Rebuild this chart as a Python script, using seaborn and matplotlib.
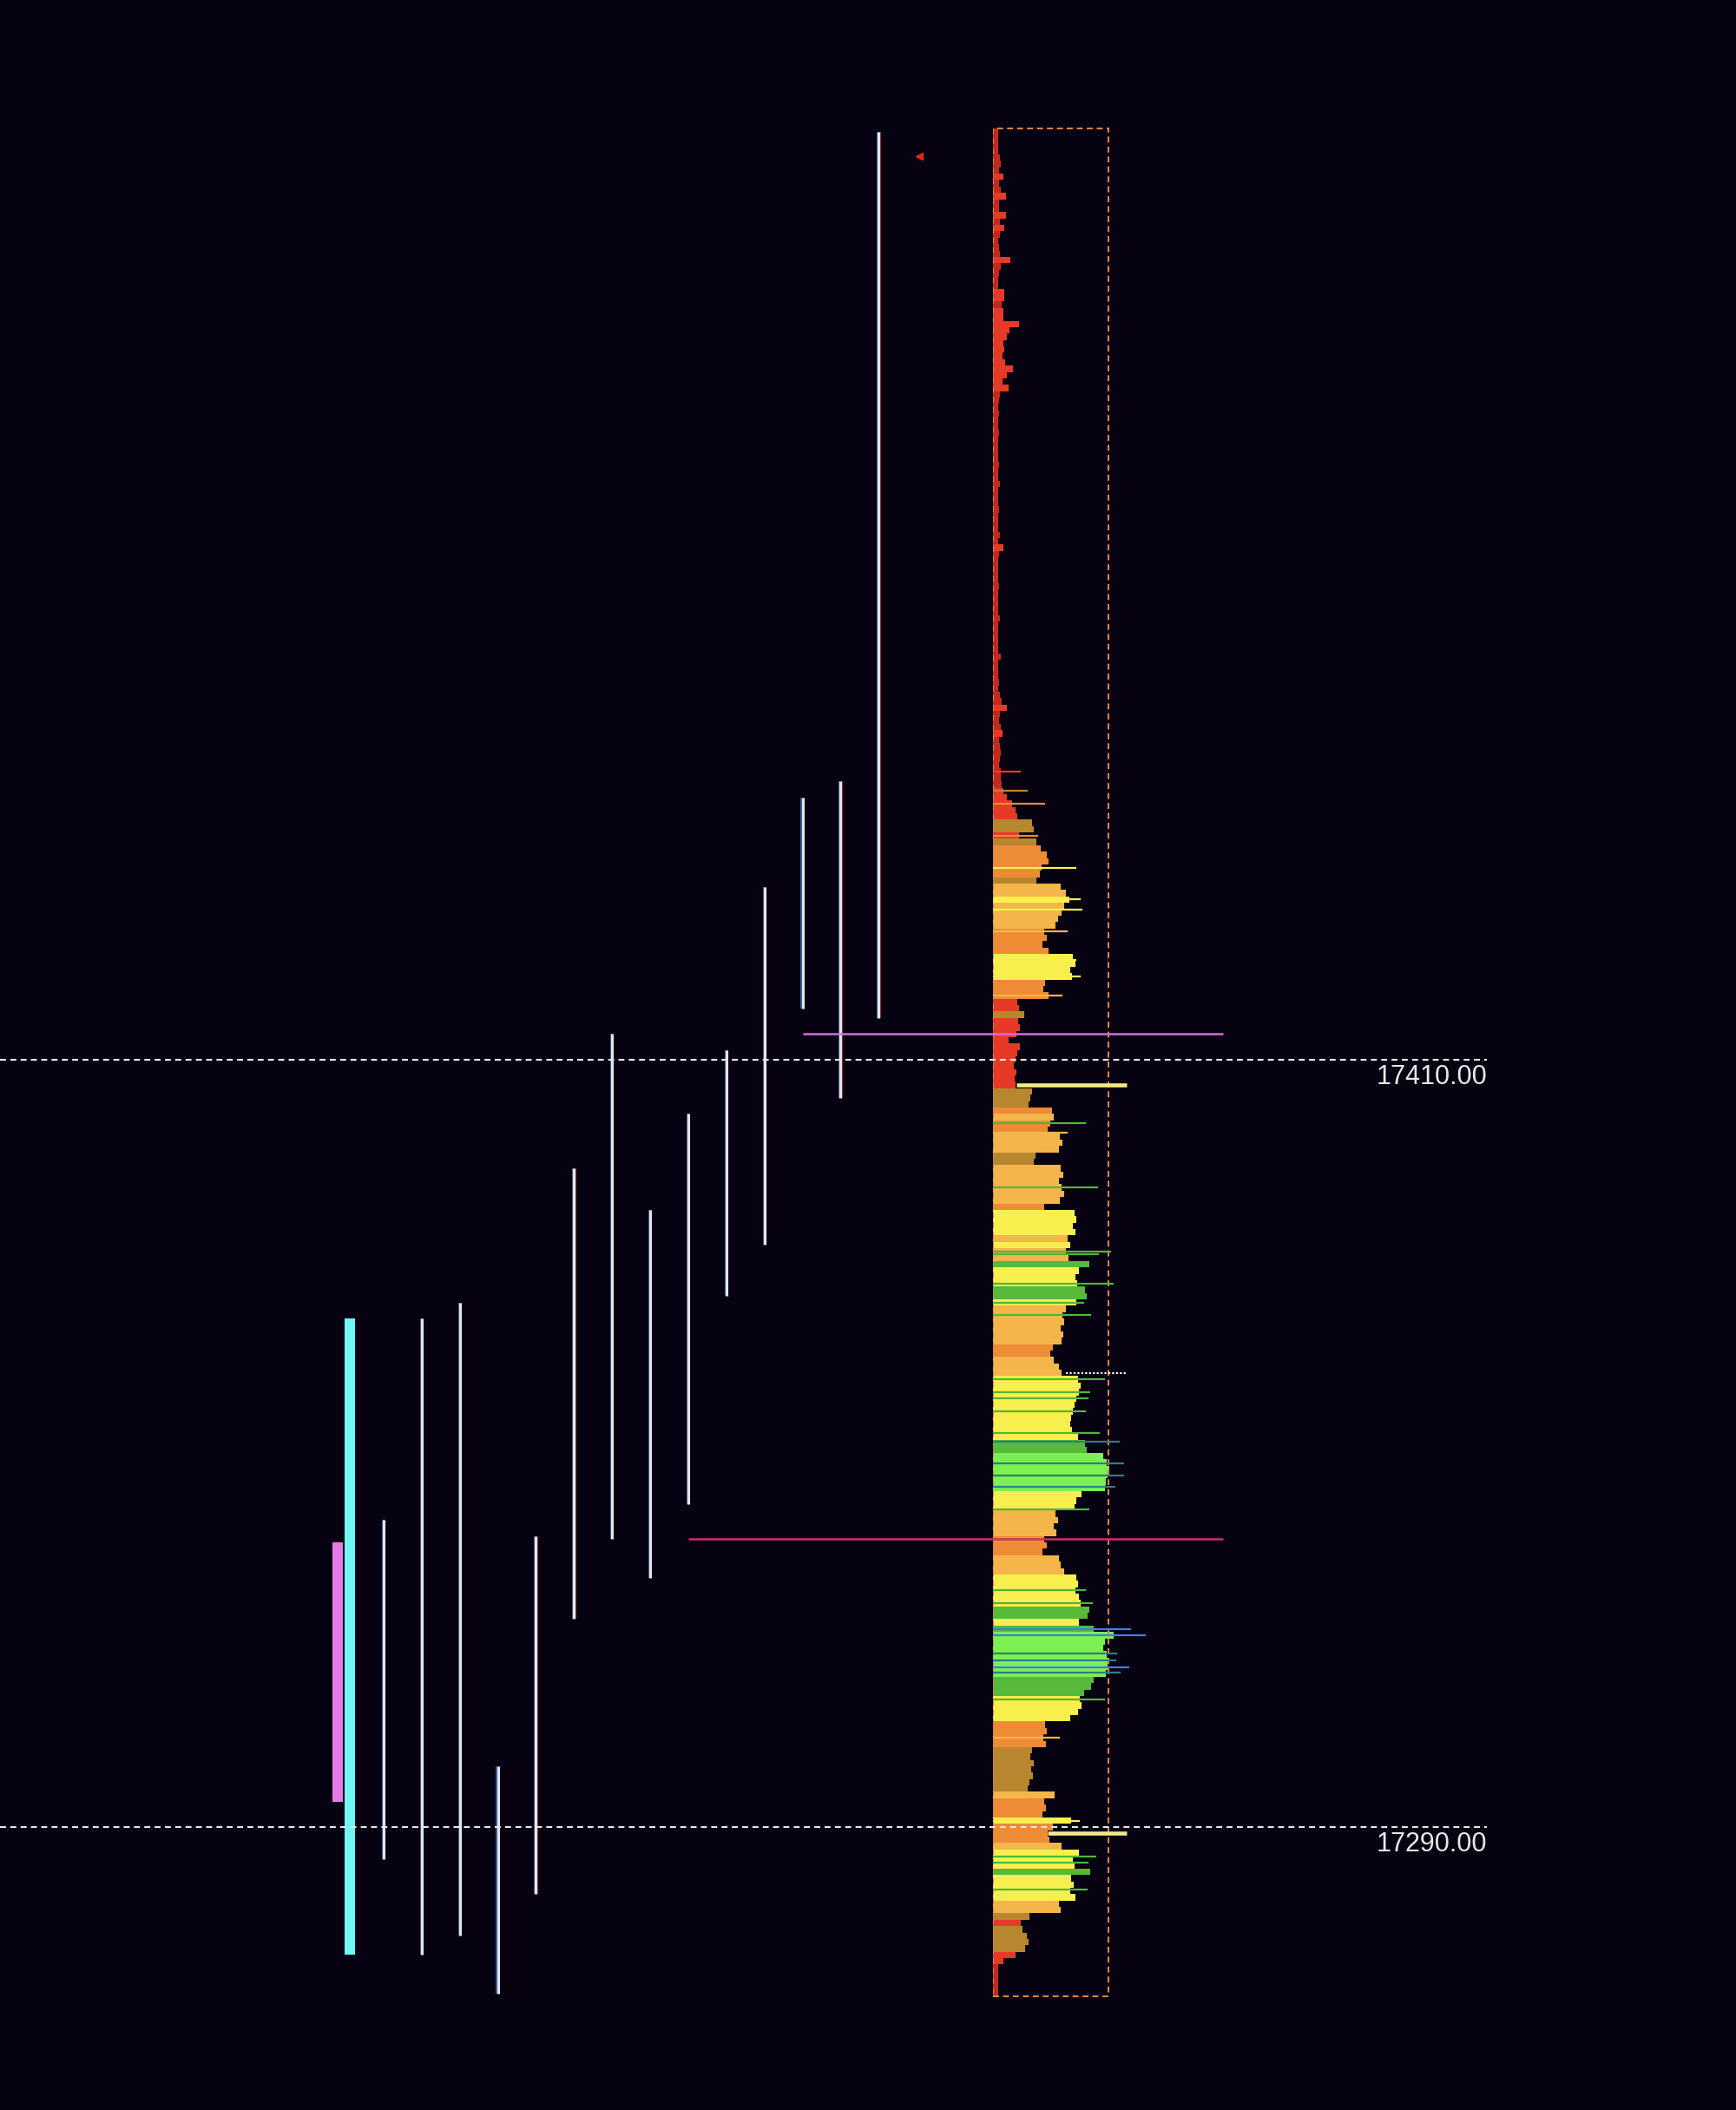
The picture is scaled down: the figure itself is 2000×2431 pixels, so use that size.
import numpy as np
import pandas as pd
import matplotlib
matplotlib.use("Agg")
import matplotlib.pyplot as plt
import seaborn as sns
from matplotlib.patches import Rectangle

# --- volume profile, one row per point, from 17555 down to 17264 ---
prices = np.arange(17555, 17263, -1)
volume = [
    6, 6, 6, 6, 8, 9, 7, 12, 7, 9,
    15, 7, 7, 15, 8, 13, 8, 6, 7, 8,
    20, 9, 7, 6, 6, 13, 13, 10, 12, 12,
    30, 19, 16, 12, 13, 11, 14, 23, 16, 11,
    18, 8, 7, 6, 7, 6, 6, 7, 6, 6,
    6, 6, 7, 6, 6, 8, 6, 6, 6, 7,
    6, 6, 6, 8, 6, 12, 7, 6, 6, 6,
    6, 7, 6, 6, 6, 6, 8, 6, 6, 6,
    6, 6, 9, 6, 6, 6, 7, 6, 8, 10,
    16, 8, 7, 9, 11, 7, 8, 9, 8, 7,
    9, 9, 10, 12, 16, 22, 26, 28, 45, 47,
    30, 50, 55, 62, 64, 56, 54, 50, 78, 84,
    88, 82, 79, 75, 72, 59, 62, 57, 64, 92,
    95, 89, 91, 60, 58, 64, 28, 30, 36, 29,
    31, 27, 18, 31, 28, 26, 24, 27, 25, 26,
    45, 43, 41, 68, 70, 66, 63, 77, 80, 76,
    49, 47, 78, 81, 76, 79, 82, 77, 59, 94,
    96, 92, 95, 86, 89, 84, 87, 111, 99, 95,
    97, 106, 108, 96, 84, 80, 82, 78, 81, 79,
    69, 66, 70, 76, 79, 98, 101, 99, 96, 94,
    92, 90, 89, 91, 98, 106, 108, 127, 131, 134,
    132, 130, 129, 102, 96, 94, 72, 75, 70, 73,
    59, 62, 57, 76, 78, 82, 96, 98, 95, 99,
    101, 111, 109, 99, 116, 139, 129, 127, 131, 134,
    132, 130, 116, 113, 105, 100, 102, 98, 89, 60,
    62, 58, 61, 45, 43, 47, 44, 46, 42, 40,
    71, 59, 61, 57, 90, 69, 63, 65, 79, 99,
    92, 94, 112, 90, 93, 89, 95, 76, 78, 42,
    32, 34, 39, 41, 37, 26, 12, 6, 6, 6,
    6, 6,
]

# thin spike lines sticking out of the profile
spike_price = [17455, 17452, 17450, 17445, 17440, 17435, 17433.5, 17430, 17425.5, 17423,
               17420, 17400, 17398.5, 17390, 17380, 17379.5, 17375, 17372, 17370, 17360,
               17358, 17357, 17355, 17351.6, 17350.3, 17346.8, 17345, 17343.2, 17339.6, 17327,
               17325, 17320.9, 17320, 17317.1, 17316, 17315, 17314.1, 17310, 17304, 17291,
               17285.4, 17284.5, 17280.2]
spike_vol = [32, 40, 60, 52, 96, 101, 103, 86, 96, 101,
             80, 107, 86, 121, 136, 122, 139, 105, 113, 129,
             112, 110, 107, 123, 146, 151, 151, 141, 111, 107,
             115, 159, 176, 143, 142, 157, 147, 129, 77, 100,
             119, 110, 109]

# --- TPO period ranges (high / low) ---
tpo_high = [17338, 17369.5, 17372, 17299.5, 17335.5, 17393, 17414, 17386.5,
            17401.5, 17411.5, 17437, 17451, 17453.5, 17555]
tpo_low = [17285, 17270, 17273, 17264, 17279.5, 17322.5, 17335, 17329,
           17340.5, 17373, 17381, 17418, 17404, 17416.5]
ib_high, ib_low = 17369.5, 17270
pink_high, pink_low = 17334.5, 17294

# reference levels
levels = [17410, 17290]
level_labels = ["17410.00", "17290.00"]
poc_prices = [17406, 17289]
poc_start = [27, 63]
vwap_price = 17361
pink_line = 17414
red_line = 17335
marker_price = 17551.2

bg = "#060212"
sns.set_theme(style="dark")
plt.rcParams["font.family"] = ["Liberation Sans", "DejaVu Sans"]

ymin, ymax = 17245.76, 17575.65
fig = plt.figure(figsize=(20, 24.31), dpi=100, facecolor=bg)

# profile axes (pixel units across), under the main axes
pax = fig.add_axes([1144 / 2000, 0, 856 / 2000, 1], zorder=1)
pax.patch.set_alpha(0)

level_edges = [11, 33, 52, 70, 88, 104, 120, 140, 157]
level_cols = ["#c4291c", "#e63a27", "#b8862e", "#ee8b35", "#f4b54b",
              "#f8ef4e", "#56b93a", "#7cf052", "#2f7d84", "#3b80e2"]
df = pd.DataFrame({"price": prices, "vol": volume})
df["lvl"] = np.digitize(df["vol"], level_edges)
pal = {i: c for i, c in enumerate(level_cols)}
sns.barplot(data=df, x="vol", y="price", hue="lvl", palette=pal, orient="y",
            native_scale=True, dodge=False, width=1.0, errorbar=None,
            legend=False, saturation=1, linewidth=0, ax=pax)

spike_edges = [33, 52, 70, 88, 104, 140, 157]
spike_cols = ["#e63a27", "#b8862e", "#ee8b35", "#f4b54b", "#f8ef4e",
              "#4cb838", "#2f7d84", "#3b80e2"]
sc = [spike_cols[i] for i in np.digitize(spike_vol, spike_edges)]
pax.hlines(spike_price, 0, spike_vol, colors=sc, lw=1.6)

pax.add_patch(Rectangle((0, prices[-1] - 0.5), 133, len(prices), fill=False,
                        edgecolor="#d9824a", lw=1.5, ls=(0, (3.3, 2.2))))
pax.hlines(poc_prices, poc_start, 154, colors="#f3ec8a", lw=3.3)
pax.hlines(vwap_price, 84, 154, colors="white", lw=1.6, ls=(0, (1, 1)))
pax.set_xlim(0, 856)
pax.set_ylim(ymin, ymax)
pax.axis("off")

# main axes: x in period index
ax = fig.add_axes([0, 0, 1, 1], zorder=2)
ax.patch.set_alpha(0)
step = 43.88
x0 = 441.9
ax.set_xlim(-x0 / step, (2000 - x0) / step)
ax.set_ylim(ymin, ymax)

periods = np.arange(len(tpo_high))
ax.vlines(periods + 0.03, tpo_low, tpo_high, colors="#8a2a2a", lw=1.6)
ax.vlines(periods - 0.025, tpo_low, tpo_high, colors="#3d5a96", lw=1.4)
ax.vlines(periods, tpo_low, tpo_high, colors="#e2e6e6", lw=2.2)

ax.bar((403 - x0) / step, ib_high - ib_low, bottom=ib_low, width=12 / step,
       color="#72f6f4", linewidth=0)
ax.bar((389 - x0) / step, pink_high - pink_low, bottom=pink_low, width=12 / step,
       color="#e47be6", linewidth=0)

x_end = (1409 - x0) / step
ax.hlines(pink_line, 11, x_end, colors="#d46fd6", lw=1.8)
ax.hlines(red_line, 8, x_end, colors="#c43562", lw=1.8)

lab_x = (1713 - x0) / step
ax.hlines(levels, -x0 / step, lab_x, colors="#e8e8e8", lw=1.5, linestyles=(0, (3.3, 2.4)))
for lv, lb in zip(levels, level_labels):
    ax.text(lab_x, lv - 0.7, lb, ha="right", va="top", fontsize=22, color="#e8e8e8")

ax.plot((1059 - x0) / step, marker_price, marker="<", color="#e8251c", ms=6, ls="none")
ax.axis("off")

fig.savefig("out.png", dpi=100, facecolor=bg)
